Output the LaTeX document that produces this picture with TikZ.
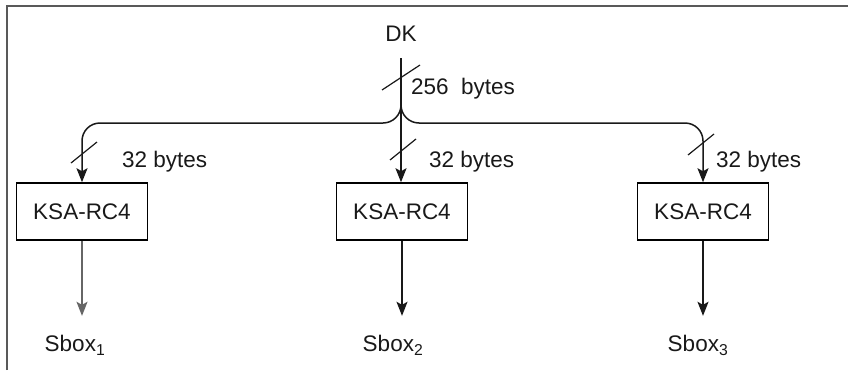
\documentclass[tikz,border=0pt]{standalone}
\usepackage{fontspec}
\setmainfont{Liberation Sans}
\usetikzlibrary{arrows.meta}
\begin{document}
\begin{tikzpicture}[x=1pt,y=-1pt,
  every node/.style={font=\fontsize{22.5}{26}\selectfont, text=black!90, inner sep=0pt},
  ln/.style={line width=1.5pt, black!90},
  arr/.style={ln, -{Stealth[length=14pt,width=11pt,inset=3pt]}},
  kbox/.style={draw, line width=1.5pt, minimum width=131pt, minimum height=57pt},
  frame/.style={line width=2pt, black!65},
  lbl/.style={anchor=west},
  sbox/.style={minimum height=58pt}]
\useasboundingbox (0,0) rectangle (848,370);
% frame
\draw[frame] (7,370) -- (7,5.5) -- (848,5.5);
% nodes
\node[minimum height=48pt] (dk) at (401,34) {DK};
\node[kbox] (k1) at (82,211.5) {KSA-RC4};
\node[kbox] (k2) at (402,211.5) {KSA-RC4};
\node[kbox] (k3) at (703,211.5) {KSA-RC4};
\node[sbox] (s1) at (75,345) {Sbox\textsubscript{1}};
\node[sbox] (s2) at (393,345) {Sbox\textsubscript{2}};
\node[sbox] (s3) at (698,345) {Sbox\textsubscript{3}};
% connectors
\draw[arr, rounded corners=18pt] (dk.south) -- (dk.south |- 0,123) -- (k1.north |- 0,123) -- (k1.north);
\draw[arr] (dk.south) -- (dk.south |- k2.north);
\draw[arr, rounded corners=18pt] (dk.south) -- (dk.south |- 0,123) -- (k3.north |- 0,123) -- (k3.north);
\draw[arr, black!60, line width=1.8pt] (k1.south) -- (k1.south |- s1.north);
\draw[arr] (k2.south) -- (k2.south |- s2.north);
\draw[arr] (k3.south) -- (k3.south |- s3.north);
% bus-width slashes
\draw[ln, line width=1.2pt] (382,90) -- (420,65);
\draw[ln, line width=1.2pt] (71,163) -- (97,142);
\draw[ln, line width=1.2pt] (390,160) -- (416,139);
\draw[ln, line width=1.2pt] (688,155) -- (714,134);
% labels
\node[lbl] (b0) at (411,89) {256\ \ bytes};
\node[lbl] (b1) at (122,162) {32 bytes};
\node[lbl] (b2) at (429,162) {32 bytes};
\node[lbl] (b3) at (716,162) {32 bytes};
\end{tikzpicture}
\end{document}
